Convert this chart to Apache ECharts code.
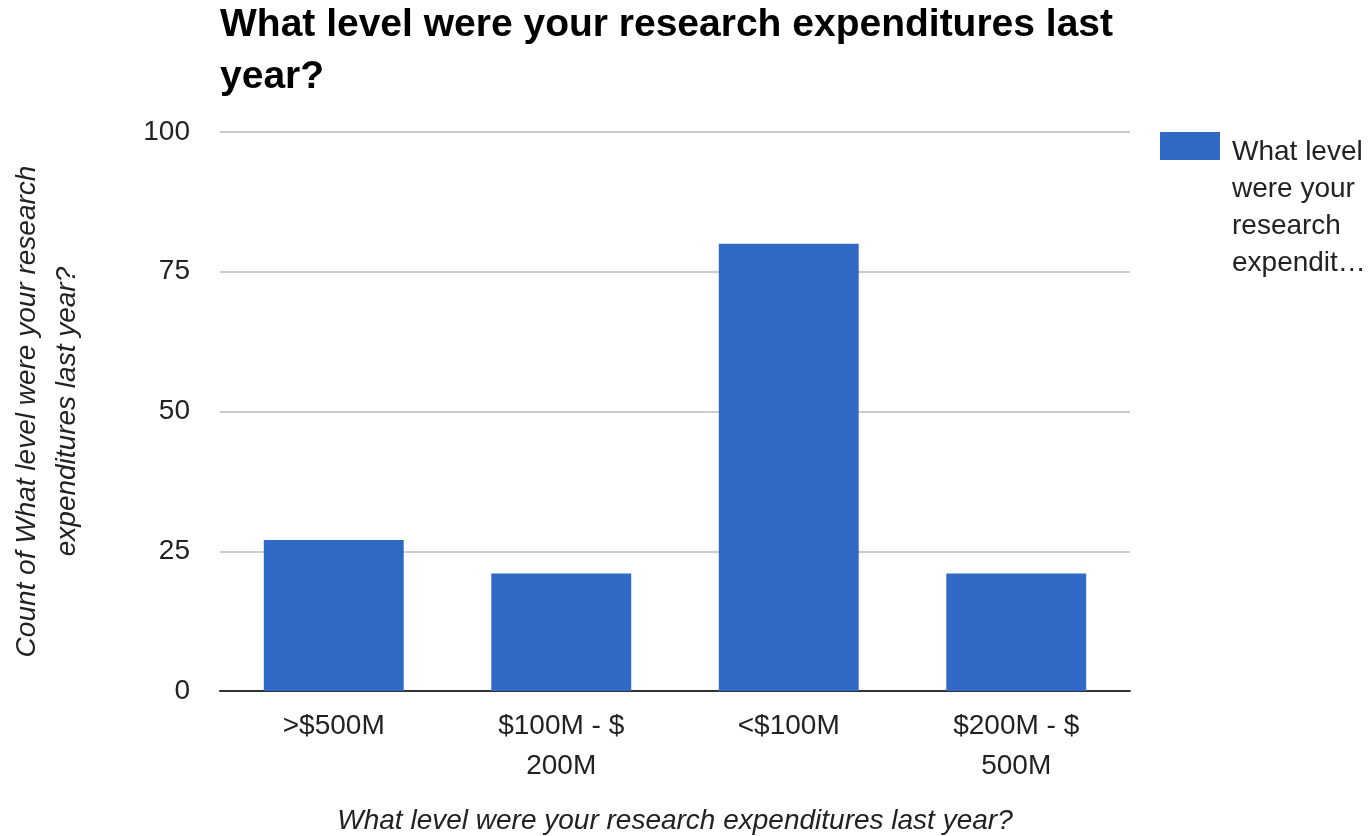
<!DOCTYPE html>
<html>
<head>
<meta charset="utf-8">
<script src="https://cdn.jsdelivr.net/npm/echarts@6/dist/echarts.min.js"></script>
<style>
  html, body { margin: 0; padding: 0; background: #fff; }
  #chart { width: 1372px; height: 836px; }
</style>
</head>
<body>
<div id="chart"></div>
<script>
var categories = ['>$500M', '$100M - $200M', '<$100M', '$200M - $500M'];
var counts = [27, 21, 80, 21];
var yTicks = { min: 0, max: 100, interval: 25 };
var seriesName = 'What level were your research expenditures last year?';

var font = '"Liberation Sans", Arial, Helvetica, sans-serif';

var option = {
    textStyle: { fontFamily: font },
    title: {
        text: 'What level were your research expenditures last\nyear?',
        left: 215,
        top: -6,
        textStyle: {
            fontFamily: font,
            fontSize: 39,
            fontWeight: 'bold',
            color: '#000',
            lineHeight: 52
        }
    },
    legend: {
        left: 1160,
        top: 132,
        padding: 0,
        orient: 'vertical',
        itemWidth: 60,
        itemHeight: 152,
        icon: 'path://M0,0H60V28H0Z M0,152L60,152',
        formatter: function () {
            return 'What level\nwere your\nresearch\nexpendit…';
        },
        textStyle: {
            fontFamily: font,
            fontSize: 28,
            lineHeight: 37,
            color: '#222',
            padding: [0, 0, 0, 7]
        },
        data: [seriesName]
    },
    grid: {
        left: 220,
        right: 242,
        top: 132,
        bottom: 145,
        containLabel: false,
        outerBoundsMode: 'none'
    },
    xAxis: {
        type: 'category',
        data: categories,
        name: seriesName,
        nameLocation: 'middle',
        nameGap: 116,
        nameTextStyle: {
            fontFamily: font,
            fontSize: 28,
            fontStyle: 'italic',
            color: '#222'
        },
        axisLine: { lineStyle: { color: '#333', width: 2 } },
        axisTick: { show: false },
        axisLabel: {
            fontFamily: font,
            fontSize: 28,
            lineHeight: 40,
            color: '#222',
            margin: 15,
            formatter: function (v) { return v.replace('- $', '- $\n'); }
        }
    },
    yAxis: {
        type: 'value',
        min: yTicks.min,
        max: yTicks.max,
        interval: yTicks.interval,
        name: 'Count of What level were your research\nexpenditures last year?',
        nameLocation: 'middle',
        nameGap: 133,
        nameTextStyle: {
            fontFamily: font,
            fontSize: 28,
            fontStyle: 'italic',
            color: '#222',
            lineHeight: 40
        },
        axisLine: { show: false },
        axisTick: { show: false },
        axisLabel: {
            fontFamily: font,
            fontSize: 28,
            color: '#222',
            margin: 30
        },
        splitLine: { lineStyle: { color: '#ccc', width: 2 } }
    },
    series: [
        {
            name: seriesName,
            type: 'bar',
            data: counts,
            barCategoryGap: '38.5%',
            itemStyle: { color: '#3169c6' },
            z: 3
        }
    ]
};

var chart = echarts.init(document.getElementById('chart'));
chart.setOption(option);
</script>
</body>
</html>
